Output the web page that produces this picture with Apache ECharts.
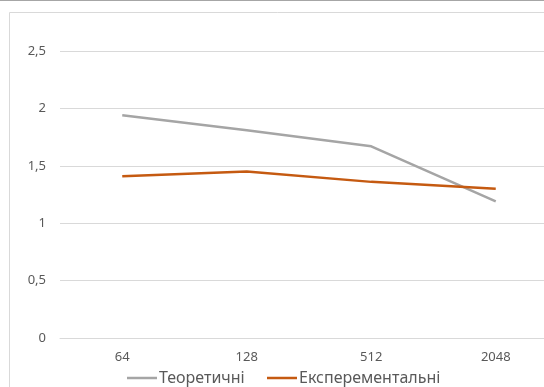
<!DOCTYPE html>
<html>
<head>
<meta charset="utf-8">
<script src="https://cdn.jsdelivr.net/npm/echarts@6/dist/echarts.min.js"></script>
<style>
  html, body { margin: 0; padding: 0; background: #fff; }
  #chart { width: 544px; height: 387px; }
</style>
</head>
<body>
<div id="chart"></div>
<script>
// Block sizes on the category axis
const categories = ['64', '128', '512', '2048'];
// Theoretical and experimental values per block size
const theoretical = [1.94, 1.81, 1.67, 1.19];
const experimental = [1.41, 1.45, 1.36, 1.30];
const seriesNames = ['Теоретичні', 'Експерементальні'];
const yTicks = [0, 0.5, 1, 1.5, 2, 2.5];

const textColor = '#595959';
const fontFamily = '"Noto Sans", "Open Sans", Arial, sans-serif';
const lineIcon = 'path://M0,4 L30,4 L30,6.5 L0,6.5 Z';

const legendBase = {
  top: 370,
  padding: 0,
  itemWidth: 30,
  itemHeight: 10,
  icon: lineIcon,
  textStyle: { color: textColor, fontSize: 16, fontFamily: fontFamily, padding: [0, 0, 0, -3] }
};

const chart = echarts.init(document.getElementById('chart'), null, { renderer: 'canvas' });

chart.setOption({
  animation: false,
  backgroundColor: '#ffffff',
  graphic: [
    // thin frame line across the top
    { type: 'line', shape: { x1: 0, y1: 0.5, x2: 544, y2: 0.5 },
      style: { stroke: '#a6a6a6', lineWidth: 1 }, silent: true },
    // chart area border
    { type: 'rect', shape: { x: 9.5, y: 12.5, width: 560, height: 400 },
      style: { fill: 'none', stroke: '#d9d9d9', lineWidth: 1 }, silent: true }
  ],
  grid: { left: 60, width: 498, top: 51, height: 287, containLabel: false, outerBoundsMode: 'none' },
  legend: [
    Object.assign({ data: [seriesNames[0]], left: 127 }, legendBase),
    Object.assign({ data: [seriesNames[1]], left: 267 }, legendBase)
  ],
  xAxis: {
    type: 'category',
    data: categories,
    boundaryGap: true,
    axisLine: { show: true, lineStyle: { color: '#d9d9d9' } },
    axisTick: { show: false },
    axisLabel: { color: textColor, fontSize: 13, fontFamily: fontFamily, margin: 13 }
  },
  yAxis: {
    type: 'value',
    min: 0,
    max: 2.5,
    interval: 0.5,
    axisLine: { show: false },
    axisTick: { show: false },
    splitLine: { lineStyle: { color: '#d9d9d9', width: 1 } },
    axisLabel: {
      color: textColor, fontSize: 13, fontFamily: fontFamily, margin: 14,
      formatter: v => yTicks.includes(v) ? String(v).replace('.', ',') : ''
    }
  },
  series: [
    {
      name: seriesNames[0],
      type: 'line',
      data: theoretical,
      symbol: 'none',
      lineStyle: { color: '#a5a5a5', width: 2.5 },
      itemStyle: { color: '#a5a5a5' }
    },
    {
      name: seriesNames[1],
      type: 'line',
      data: experimental,
      symbol: 'none',
      lineStyle: { color: '#c55a11', width: 2.5 },
      itemStyle: { color: '#c55a11' }
    }
  ]
});
</script>
</body>
</html>
